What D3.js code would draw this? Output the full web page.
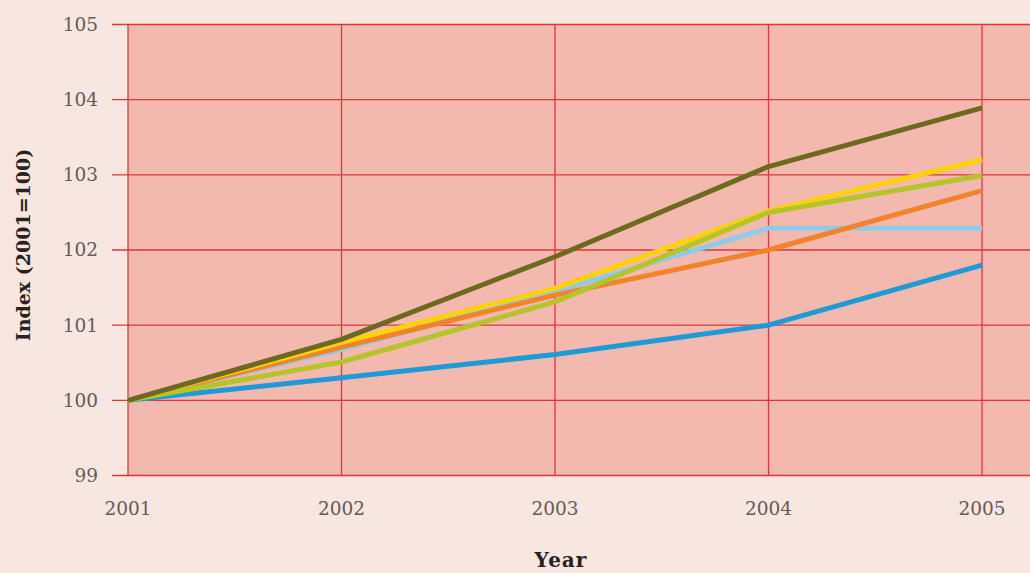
<!DOCTYPE html>
<html>
<head>
<meta charset="utf-8">
<script src="https://cdn.jsdelivr.net/npm/d3@7"></script>
<style>
  html, body { margin: 0; padding: 0; background: #f8e6e0; }
  svg { display: block; }
</style>
</head>
<body>
<svg id="chart" width="1030" height="573"></svg>
<script>
// Years on the x axis
const years = [2001, 2002, 2003, 2004, 2005];

// Index values (2001 = 100) for each series
const seriesOlive       = [100, 100.81, 101.91, 103.11, 103.89];
const seriesYellow      = [100, 100.77, 101.49, 102.52, 103.20];
const seriesYellowGreen = [100, 100.51, 101.31, 102.50, 102.99];
const seriesLightBlue   = [100, 100.68, 101.45, 102.29, 102.29];
const seriesOrange      = [100, 100.71, 101.40, 102.00, 102.79];
const seriesBlue        = [100, 100.30, 100.61, 101.00, 101.80];

const yTicks = [99, 100, 101, 102, 103, 104, 105];

// Drawing order, bottom to top
const series = [
  { values: seriesBlue,        color: "#1e9ad6" },
  { values: seriesLightBlue,   color: "#8ecbea" },
  { values: seriesOrange,      color: "#f2822b" },
  { values: seriesYellow,      color: "#fed108" },
  { values: seriesYellowGreen, color: "#b6c42c" },
  { values: seriesOlive,       color: "#6d6a20" }
];

const svg = d3.select("#chart");
const W = 1030, H = 573;

const x = d3.scaleLinear().domain([2001, 2005]).range([128, 982]);
const y = d3.scaleLinear().domain([99, 105]).range([475.5, 24.5]);

// Plot background runs past the last year to the right edge
svg.append("rect")
  .attr("x", x(2001)).attr("y", y(105))
  .attr("width", W - x(2001)).attr("height", y(99) - y(105))
  .attr("fill", "#f3b9ae");

const gridColor = "#e0363f";

// Horizontal grid lines with short ticks to the left of the axis
svg.append("g").selectAll("line").data(yTicks).join("line")
  .attr("x1", 112).attr("x2", W)
  .attr("y1", d => y(d)).attr("y2", d => y(d))
  .attr("stroke", gridColor).attr("stroke-width", 1.3);

// Vertical grid lines
svg.append("g").selectAll("line").data(years).join("line")
  .attr("x1", d => x(d)).attr("x2", d => x(d))
  .attr("y1", y(105)).attr("y2", y(99))
  .attr("stroke", gridColor).attr("stroke-width", 1.3);

// Axis tick labels
const labelFont = "'DejaVu Serif', 'Liberation Serif', serif";
svg.append("g").selectAll("text").data(yTicks).join("text")
  .attr("x", 98).attr("y", d => y(d))
  .attr("dy", "0.35em")
  .attr("text-anchor", "end")
  .attr("font-family", labelFont).attr("font-size", 18.5)
  .attr("fill", "#655b5b")
  .text(d => d);

svg.append("g").selectAll("text").data(years).join("text")
  .attr("x", d => x(d)).attr("y", 515)
  .attr("text-anchor", "middle")
  .attr("font-family", labelFont).attr("font-size", 18.5)
  .attr("fill", "#655b5b")
  .text(d => d);

// Axis titles
svg.append("text")
  .attr("x", 561).attr("y", 567)
  .attr("text-anchor", "middle")
  .attr("font-family", labelFont).attr("font-size", 20)
  .attr("letter-spacing", 1)
  .attr("font-weight", "bold").attr("fill", "#2a2222")
  .text("Year");

svg.append("text")
  .attr("transform", "translate(30,245) rotate(-90)")
  .attr("text-anchor", "middle")
  .attr("font-family", labelFont).attr("font-size", 19)
  .attr("font-weight", "bold").attr("fill", "#2a2222")
  .text("Index (2001=100)");

// Series lines
const line = d3.line()
  .x((d, i) => x(years[i]))
  .y(d => y(d));

svg.append("g").selectAll("path").data(series).join("path")
  .attr("d", d => line(d.values))
  .attr("fill", "none")
  .attr("stroke", d => d.color)
  .attr("stroke-width", 5)
  .attr("stroke-linejoin", "round");
</script>
</body>
</html>
